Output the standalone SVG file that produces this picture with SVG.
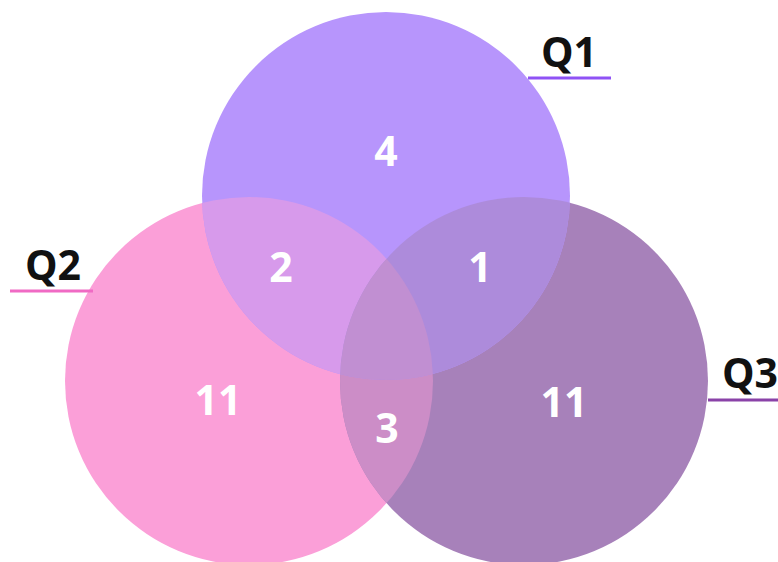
<svg xmlns="http://www.w3.org/2000/svg" width="778" height="562" viewBox="0 0 778 562">
<style>
.num{font-family:"Open Sans","Noto Sans",sans-serif;font-weight:bold;font-size:41px;fill:#ffffff;text-anchor:middle}
.lbl{font-family:"Open Sans","Noto Sans",sans-serif;font-weight:bold;font-size:41px;fill:#111111;text-anchor:middle}
</style>
<defs>
<clipPath id="c1"><circle cx="386" cy="196" r="184"/></clipPath>
<clipPath id="c2"><circle cx="249" cy="381" r="184"/></clipPath>
<clipPath id="c12" clip-path="url(#c1)"><circle cx="249" cy="381" r="184"/></clipPath>
</defs>
<rect width="778" height="562" fill="#ffffff"/>
<g id="q2"><circle cx="249" cy="381" r="184" fill="#fb9fd8"/></g>
<g id="q3"><circle cx="524" cy="381" r="184" fill="#a781ba"/></g>
<g id="q1"><circle cx="386" cy="196" r="184" fill="#b795fc"/></g>
<g id="overlaps">
<circle cx="524" cy="381" r="184" fill="#cc8dc7" clip-path="url(#c2)"/>
<circle cx="249" cy="381" r="184" fill="#d79aeb" clip-path="url(#c1)"/>
<circle cx="524" cy="381" r="184" fill="#ad8bdb" clip-path="url(#c1)"/>
<circle cx="524" cy="381" r="184" fill="#c18fd2" clip-path="url(#c12)"/>
</g>
<g id="numbers">
<text class="num" x="386" y="166">4</text>
<text class="num" x="281" y="282">2</text>
<text class="num" x="480" y="282">1</text>
<text class="num" x="218" y="415">11</text>
<text class="num" x="387" y="443">3</text>
<text class="num" x="564" y="417">11</text>
</g>
<g id="labels">
<g id="label-q1"><text class="lbl" x="569" y="67">Q1</text><line x1="528" y1="78" x2="611" y2="78" stroke="#8f52f5" stroke-width="3"/></g>
<g id="label-q2"><text class="lbl" x="53" y="280">Q2</text><line x1="10" y1="291" x2="93" y2="291" stroke="#f06ac4" stroke-width="3"/></g>
<g id="label-q3"><text class="lbl" x="750" y="388">Q3</text><line x1="708" y1="400" x2="778" y2="400" stroke="#8a42a8" stroke-width="3"/></g>
</g>
</svg>
